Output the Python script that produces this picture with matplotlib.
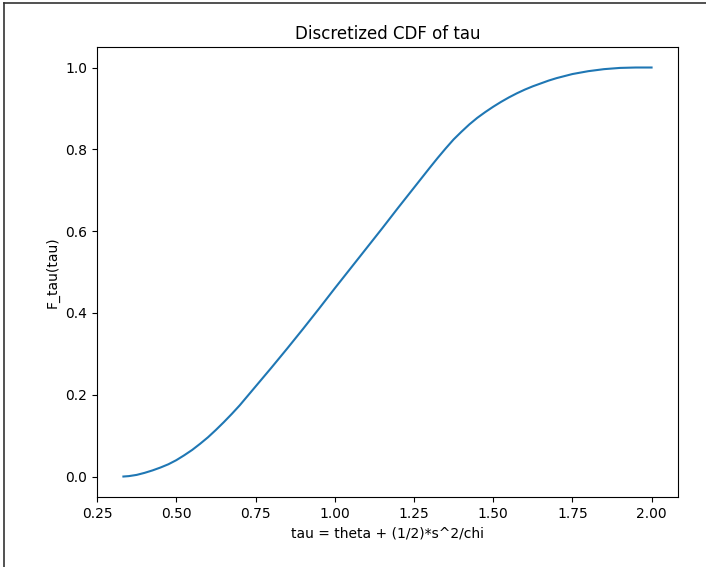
import matplotlib
matplotlib.use('Agg')
import matplotlib.pyplot as plt
from matplotlib.lines import Line2D

# values
tau = [0.333, 0.35, 0.375, 0.40, 0.425, 0.45, 0.475, 0.50, 0.525, 0.55,
       0.575, 0.60, 0.625, 0.65, 0.675, 0.70, 0.725, 0.75, 0.775, 0.80,
       0.85, 0.90, 0.95, 1.00, 1.05, 1.10, 1.15, 1.20, 1.25, 1.30,
       1.325, 1.35, 1.375, 1.40, 1.425, 1.45, 1.475, 1.50, 1.525, 1.55,
       1.575, 1.60, 1.625, 1.65, 1.675, 1.70, 1.75, 1.80, 1.85, 1.90,
       1.95, 2.00]
cdf = [0.000, 0.001, 0.004, 0.009, 0.015, 0.022, 0.030, 0.040, 0.052, 0.065,
       0.080, 0.096, 0.114, 0.133, 0.153, 0.174, 0.197, 0.220, 0.243, 0.266,
       0.313, 0.361, 0.410, 0.460, 0.509, 0.558, 0.607, 0.657, 0.706, 0.755,
       0.779, 0.802, 0.824, 0.843, 0.861, 0.877, 0.891, 0.904, 0.916, 0.927,
       0.937, 0.946, 0.954, 0.961, 0.968, 0.974, 0.984, 0.991, 0.996, 0.999,
       1.000, 1.000]

fig = plt.figure(figsize=(7.06, 5.67), dpi=100)
ax = fig.add_axes([0.1374, 0.1235, 0.8229, 0.7935])
ax.plot(tau, cdf)
ax.set_title('Discretized CDF of tau')
ax.set_xlabel('tau = theta + (1/2)*s^2/chi')
ax.set_ylabel('F_tau(tau)')
ax.set_xticks([0.25, 0.50, 0.75, 1.00, 1.25, 1.50, 1.75, 2.00])

# screenshot frame on the left and top edges
fig.add_artist(Line2D([4 / 706, 4 / 706], [0, 1 - 3 / 567], transform=fig.transFigure,
                      color='#333333', lw=1.2))
fig.add_artist(Line2D([4 / 706, 1], [1 - 3 / 567, 1 - 3 / 567], transform=fig.transFigure,
                      color='#333333', lw=1.2))

fig.savefig('out.png', dpi=100)
